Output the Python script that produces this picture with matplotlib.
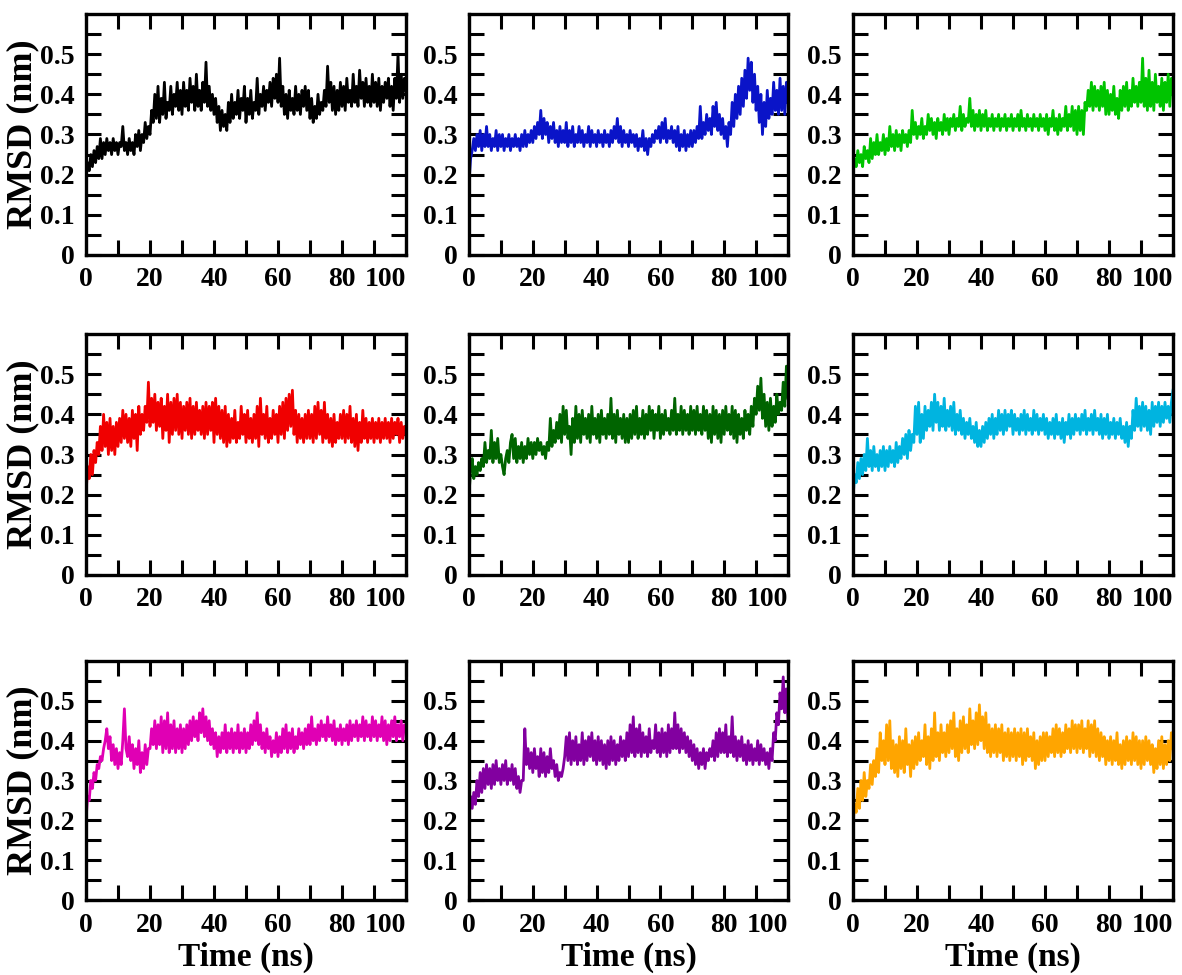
import matplotlib
matplotlib.use("Agg")
import matplotlib.pyplot as plt

# RMSD traces, one value every 0.5 ns (0..100)
time_ns = [i * 0.5 for i in range(201)]

rmsd_black = [
    0.19, 0.23, 0.21, 0.25, 0.22, 0.26, 0.23, 0.27, 0.24, 0.29, 0.24, 0.28, 0.25, 0.29, 0.26, 0.28, 0.25, 0.29, 0.26, 0.28,
    0.25, 0.28, 0.27, 0.32, 0.26, 0.28, 0.25, 0.29, 0.26, 0.28, 0.25, 0.30, 0.27, 0.31, 0.26, 0.30, 0.28, 0.33, 0.29, 0.32,
    0.30, 0.36, 0.33, 0.40, 0.34, 0.42, 0.33, 0.39, 0.35, 0.43, 0.34, 0.38, 0.36, 0.42, 0.35, 0.40, 0.37, 0.43, 0.36, 0.41,
    0.35, 0.43, 0.37, 0.41, 0.36, 0.44, 0.38, 0.42, 0.36, 0.45, 0.37, 0.41, 0.36, 0.43, 0.38, 0.48, 0.37, 0.42, 0.36, 0.40,
    0.35, 0.39, 0.33, 0.37, 0.31, 0.36, 0.32, 0.35, 0.31, 0.38, 0.33, 0.40, 0.34, 0.38, 0.35, 0.41, 0.34, 0.39, 0.36, 0.42,
    0.33, 0.39, 0.35, 0.41, 0.34, 0.38, 0.36, 0.44, 0.35, 0.40, 0.37, 0.42, 0.36, 0.41, 0.38, 0.43, 0.37, 0.44, 0.39, 0.45,
    0.38, 0.49, 0.37, 0.42, 0.35, 0.40, 0.34, 0.41, 0.36, 0.39, 0.35, 0.42, 0.36, 0.40, 0.35, 0.41, 0.37, 0.42, 0.36, 0.41,
    0.34, 0.39, 0.33, 0.37, 0.34, 0.40, 0.35, 0.38, 0.36, 0.41, 0.37, 0.47, 0.38, 0.43, 0.36, 0.42, 0.35, 0.41, 0.36, 0.43,
    0.37, 0.42, 0.36, 0.44, 0.38, 0.41, 0.37, 0.45, 0.38, 0.42, 0.37, 0.46, 0.39, 0.43, 0.37, 0.44, 0.38, 0.42, 0.37, 0.45,
    0.38, 0.43, 0.37, 0.44, 0.36, 0.42, 0.38, 0.43, 0.39, 0.44, 0.37, 0.42, 0.36, 0.44, 0.39, 0.50, 0.38, 0.45, 0.39, 0.44,
    0.41,
]

rmsd_blue = [
    0.18, 0.24, 0.26, 0.29, 0.26, 0.30, 0.27, 0.31, 0.26, 0.30, 0.27, 0.32, 0.27, 0.30, 0.26, 0.29, 0.27, 0.31, 0.26, 0.30,
    0.27, 0.30, 0.26, 0.29, 0.27, 0.30, 0.26, 0.29, 0.27, 0.30, 0.27, 0.29, 0.26, 0.30, 0.27, 0.31, 0.27, 0.30, 0.28, 0.31,
    0.28, 0.32, 0.29, 0.33, 0.30, 0.36, 0.29, 0.34, 0.30, 0.33, 0.28, 0.32, 0.29, 0.33, 0.28, 0.31, 0.27, 0.32, 0.28, 0.31,
    0.28, 0.33, 0.27, 0.31, 0.28, 0.32, 0.27, 0.30, 0.28, 0.32, 0.28, 0.31, 0.27, 0.30, 0.28, 0.32, 0.27, 0.31, 0.28, 0.30,
    0.27, 0.31, 0.28, 0.30, 0.27, 0.31, 0.28, 0.30, 0.27, 0.31, 0.28, 0.32, 0.29, 0.34, 0.28, 0.32, 0.27, 0.31, 0.28, 0.30,
    0.27, 0.31, 0.28, 0.30, 0.27, 0.30, 0.26, 0.29, 0.27, 0.31, 0.26, 0.29, 0.25, 0.29, 0.27, 0.30, 0.28, 0.31, 0.29, 0.32,
    0.28, 0.33, 0.29, 0.34, 0.28, 0.31, 0.29, 0.32, 0.28, 0.31, 0.27, 0.32, 0.26, 0.30, 0.27, 0.31, 0.26, 0.30, 0.27, 0.31,
    0.27, 0.31, 0.28, 0.32, 0.29, 0.37, 0.29, 0.33, 0.30, 0.35, 0.31, 0.34, 0.30, 0.37, 0.32, 0.38, 0.31, 0.35, 0.30, 0.34,
    0.29, 0.32, 0.27, 0.33, 0.30, 0.38, 0.32, 0.40, 0.34, 0.42, 0.35, 0.44, 0.37, 0.46, 0.39, 0.49, 0.41, 0.48, 0.38, 0.45,
    0.36, 0.42, 0.33, 0.40, 0.30, 0.38, 0.32, 0.41, 0.34, 0.39, 0.35, 0.43, 0.36, 0.41, 0.35, 0.44, 0.36, 0.42, 0.35, 0.43,
    0.38,
]

rmsd_green = [
    0.20, 0.24, 0.22, 0.26, 0.23, 0.25, 0.22, 0.27, 0.24, 0.26, 0.23, 0.29, 0.24, 0.28, 0.25, 0.30, 0.25, 0.28, 0.26, 0.30,
    0.25, 0.29, 0.26, 0.32, 0.27, 0.30, 0.26, 0.31, 0.27, 0.30, 0.26, 0.31, 0.28, 0.30, 0.27, 0.31, 0.28, 0.36, 0.30, 0.33,
    0.29, 0.32, 0.30, 0.34, 0.29, 0.32, 0.30, 0.35, 0.31, 0.34, 0.30, 0.33, 0.29, 0.34, 0.31, 0.33, 0.30, 0.35, 0.31, 0.34,
    0.30, 0.34, 0.32, 0.35, 0.31, 0.34, 0.32, 0.37, 0.31, 0.35, 0.32, 0.34, 0.33, 0.39, 0.32, 0.36, 0.31, 0.35, 0.32, 0.36,
    0.31, 0.35, 0.32, 0.36, 0.31, 0.34, 0.32, 0.35, 0.31, 0.34, 0.32, 0.35, 0.31, 0.34, 0.32, 0.35, 0.31, 0.34, 0.32, 0.35,
    0.31, 0.34, 0.32, 0.35, 0.31, 0.36, 0.32, 0.34, 0.31, 0.35, 0.32, 0.34, 0.31, 0.35, 0.32, 0.34, 0.31, 0.35, 0.32, 0.34,
    0.31, 0.35, 0.30, 0.34, 0.32, 0.36, 0.31, 0.34, 0.30, 0.35, 0.31, 0.34, 0.32, 0.37, 0.31, 0.35, 0.32, 0.37, 0.31, 0.36,
    0.30, 0.37, 0.31, 0.36, 0.30, 0.38, 0.36, 0.41, 0.37, 0.43, 0.36, 0.42, 0.37, 0.41, 0.36, 0.42, 0.37, 0.43, 0.35, 0.41,
    0.35, 0.40, 0.36, 0.42, 0.35, 0.39, 0.34, 0.41, 0.36, 0.42, 0.37, 0.43, 0.36, 0.41, 0.37, 0.44, 0.38, 0.42, 0.37, 0.43,
    0.38, 0.49, 0.37, 0.44, 0.36, 0.46, 0.37, 0.43, 0.36, 0.45, 0.38, 0.42, 0.37, 0.44, 0.36, 0.43, 0.38, 0.45, 0.37, 0.44,
    0.40,
]

rmsd_red = [
    0.20, 0.27, 0.24, 0.30, 0.25, 0.31, 0.28, 0.33, 0.30, 0.37, 0.31, 0.40, 0.32, 0.38, 0.30, 0.39, 0.31, 0.37, 0.30, 0.38,
    0.32, 0.39, 0.33, 0.41, 0.34, 0.40, 0.33, 0.39, 0.32, 0.41, 0.34, 0.40, 0.31, 0.42, 0.35, 0.40, 0.36, 0.42, 0.38, 0.48,
    0.37, 0.44, 0.38, 0.45, 0.36, 0.43, 0.37, 0.44, 0.34, 0.42, 0.36, 0.45, 0.33, 0.43, 0.35, 0.44, 0.36, 0.45, 0.35, 0.43,
    0.34, 0.42, 0.36, 0.43, 0.35, 0.44, 0.34, 0.42, 0.35, 0.43, 0.36, 0.41, 0.35, 0.42, 0.34, 0.43, 0.35, 0.42, 0.36, 0.43,
    0.33, 0.44, 0.35, 0.42, 0.34, 0.41, 0.33, 0.42, 0.32, 0.40, 0.33, 0.39, 0.34, 0.41, 0.33, 0.38, 0.34, 0.42, 0.35, 0.40,
    0.33, 0.41, 0.34, 0.39, 0.33, 0.40, 0.34, 0.42, 0.32, 0.44, 0.35, 0.40, 0.34, 0.42, 0.33, 0.39, 0.34, 0.41, 0.35, 0.40,
    0.33, 0.42, 0.35, 0.43, 0.34, 0.44, 0.36, 0.45, 0.37, 0.46, 0.35, 0.41, 0.33, 0.40, 0.34, 0.39, 0.33, 0.40, 0.34, 0.41,
    0.34, 0.40, 0.33, 0.42, 0.34, 0.43, 0.35, 0.41, 0.33, 0.43, 0.34, 0.40, 0.33, 0.39, 0.32, 0.40, 0.33, 0.38, 0.34, 0.40,
    0.34, 0.41, 0.33, 0.40, 0.34, 0.42, 0.33, 0.39, 0.32, 0.40, 0.31, 0.38, 0.33, 0.41, 0.34, 0.39, 0.33, 0.38, 0.34, 0.39,
    0.33, 0.38, 0.34, 0.39, 0.33, 0.38, 0.34, 0.39, 0.34, 0.38, 0.33, 0.39, 0.34, 0.38, 0.35, 0.39, 0.33, 0.38, 0.34, 0.37,
    0.35,
]

rmsd_darkgreen = [
    0.20, 0.26, 0.29, 0.24, 0.27, 0.25, 0.28, 0.26, 0.29, 0.27, 0.33, 0.28, 0.31, 0.29, 0.36, 0.28, 0.33, 0.29, 0.34, 0.28,
    0.30, 0.27, 0.25, 0.29, 0.31, 0.28, 0.33, 0.35, 0.29, 0.34, 0.28, 0.32, 0.29, 0.33, 0.28, 0.32, 0.29, 0.34, 0.30, 0.33,
    0.29, 0.33, 0.30, 0.34, 0.31, 0.33, 0.30, 0.32, 0.29, 0.33, 0.31, 0.39, 0.32, 0.36, 0.33, 0.38, 0.34, 0.40, 0.33, 0.42,
    0.35, 0.41, 0.34, 0.37, 0.30, 0.39, 0.33, 0.42, 0.34, 0.40, 0.33, 0.41, 0.35, 0.39, 0.34, 0.40, 0.33, 0.42, 0.35, 0.39,
    0.34, 0.40, 0.33, 0.41, 0.35, 0.39, 0.34, 0.40, 0.35, 0.44, 0.34, 0.40, 0.33, 0.41, 0.35, 0.39, 0.34, 0.40, 0.33, 0.39,
    0.33, 0.40, 0.34, 0.41, 0.35, 0.42, 0.34, 0.39, 0.35, 0.41, 0.34, 0.40, 0.35, 0.42, 0.36, 0.41, 0.34, 0.40, 0.36, 0.42,
    0.34, 0.40, 0.35, 0.41, 0.36, 0.39, 0.35, 0.41, 0.36, 0.44, 0.35, 0.40, 0.36, 0.42, 0.35, 0.41, 0.36, 0.40, 0.35, 0.42,
    0.36, 0.41, 0.35, 0.42, 0.36, 0.40, 0.35, 0.42, 0.36, 0.41, 0.34, 0.40, 0.33, 0.42, 0.35, 0.41, 0.34, 0.40, 0.33, 0.41,
    0.35, 0.42, 0.36, 0.40, 0.35, 0.42, 0.34, 0.41, 0.33, 0.40, 0.35, 0.39, 0.34, 0.41, 0.36, 0.40, 0.35, 0.42, 0.37, 0.44,
    0.40, 0.47, 0.41, 0.49, 0.39, 0.45, 0.37, 0.43, 0.36, 0.44, 0.37, 0.42, 0.38, 0.45, 0.40, 0.43, 0.41, 0.48, 0.42, 0.52,
    0.44,
]

rmsd_cyan = [
    0.19, 0.25, 0.23, 0.28, 0.24, 0.29, 0.25, 0.30, 0.26, 0.34, 0.27, 0.31, 0.26, 0.32, 0.27, 0.30, 0.26, 0.31, 0.27, 0.32,
    0.26, 0.31, 0.27, 0.32, 0.28, 0.31, 0.27, 0.33, 0.28, 0.32, 0.29, 0.34, 0.30, 0.35, 0.29, 0.36, 0.31, 0.35, 0.33, 0.42,
    0.35, 0.43, 0.33, 0.40, 0.34, 0.42, 0.36, 0.41, 0.37, 0.43, 0.36, 0.45, 0.38, 0.43, 0.36, 0.42, 0.37, 0.44, 0.36, 0.41,
    0.37, 0.42, 0.36, 0.43, 0.35, 0.40, 0.36, 0.41, 0.35, 0.39, 0.34, 0.38, 0.35, 0.39, 0.34, 0.37, 0.33, 0.38, 0.32, 0.36,
    0.32, 0.37, 0.33, 0.38, 0.34, 0.39, 0.35, 0.40, 0.34, 0.39, 0.35, 0.41, 0.36, 0.40, 0.35, 0.41, 0.36, 0.40, 0.37, 0.41,
    0.35, 0.40, 0.36, 0.39, 0.35, 0.40, 0.36, 0.41, 0.35, 0.40, 0.36, 0.39, 0.35, 0.41, 0.36, 0.40, 0.35, 0.39, 0.36, 0.40,
    0.35, 0.39, 0.34, 0.38, 0.35, 0.39, 0.34, 0.40, 0.35, 0.38, 0.34, 0.39, 0.33, 0.38, 0.35, 0.40, 0.34, 0.39, 0.35, 0.40,
    0.36, 0.39, 0.35, 0.40, 0.36, 0.41, 0.35, 0.39, 0.36, 0.40, 0.35, 0.41, 0.36, 0.39, 0.35, 0.40, 0.34, 0.39, 0.35, 0.40,
    0.34, 0.38, 0.35, 0.39, 0.34, 0.38, 0.35, 0.39, 0.34, 0.37, 0.33, 0.38, 0.32, 0.37, 0.34, 0.41, 0.36, 0.44, 0.37, 0.42,
    0.36, 0.43, 0.37, 0.42, 0.36, 0.41, 0.35, 0.43, 0.37, 0.42, 0.38, 0.43, 0.37, 0.42, 0.38, 0.43, 0.39, 0.42, 0.38, 0.43,
    0.46,
]

rmsd_magenta = [
    0.20, 0.26, 0.25, 0.30, 0.28, 0.32, 0.30, 0.34, 0.33, 0.36, 0.35, 0.38, 0.40, 0.43, 0.38, 0.41, 0.35, 0.39, 0.34, 0.38,
    0.33, 0.37, 0.34, 0.40, 0.48, 0.38, 0.36, 0.41, 0.35, 0.39, 0.33, 0.38, 0.34, 0.40, 0.32, 0.37, 0.33, 0.39, 0.34, 0.38,
    0.38, 0.43, 0.39, 0.45, 0.38, 0.44, 0.39, 0.46, 0.37, 0.45, 0.38, 0.47, 0.37, 0.44, 0.38, 0.45, 0.37, 0.43, 0.38, 0.44,
    0.37, 0.43, 0.38, 0.44, 0.39, 0.45, 0.40, 0.46, 0.41, 0.45, 0.40, 0.47, 0.42, 0.48, 0.41, 0.46, 0.40, 0.45, 0.39, 0.43,
    0.38, 0.42, 0.36, 0.41, 0.37, 0.42, 0.38, 0.44, 0.37, 0.42, 0.38, 0.43, 0.37, 0.42, 0.38, 0.44, 0.37, 0.42, 0.38, 0.43,
    0.37, 0.42, 0.38, 0.44, 0.39, 0.45, 0.40, 0.47, 0.39, 0.44, 0.38, 0.42, 0.37, 0.43, 0.38, 0.41, 0.36, 0.40, 0.37, 0.42,
    0.36, 0.41, 0.37, 0.43, 0.38, 0.44, 0.37, 0.42, 0.38, 0.43, 0.37, 0.41, 0.38, 0.43, 0.39, 0.42, 0.38, 0.43, 0.39, 0.44,
    0.39, 0.46, 0.40, 0.43, 0.39, 0.44, 0.40, 0.45, 0.41, 0.44, 0.40, 0.46, 0.41, 0.44, 0.40, 0.45, 0.39, 0.43, 0.40, 0.44,
    0.39, 0.43, 0.40, 0.44, 0.39, 0.45, 0.40, 0.44, 0.41, 0.45, 0.40, 0.44, 0.41, 0.46, 0.40, 0.45, 0.41, 0.44, 0.40, 0.46,
    0.41, 0.45, 0.40, 0.44, 0.41, 0.46, 0.40, 0.45, 0.39, 0.44, 0.40, 0.45, 0.41, 0.46, 0.40, 0.44, 0.41, 0.45, 0.40, 0.44,
    0.43,
]

rmsd_purple = [
    0.20, 0.26, 0.23, 0.27, 0.24, 0.30, 0.26, 0.32, 0.27, 0.33, 0.28, 0.34, 0.29, 0.33, 0.28, 0.34, 0.29, 0.35, 0.30, 0.33,
    0.29, 0.34, 0.30, 0.35, 0.29, 0.33, 0.30, 0.34, 0.29, 0.33, 0.28, 0.31, 0.27, 0.30, 0.30, 0.43, 0.34, 0.38, 0.33, 0.37,
    0.32, 0.38, 0.33, 0.36, 0.31, 0.38, 0.32, 0.37, 0.31, 0.36, 0.32, 0.38, 0.33, 0.35, 0.31, 0.34, 0.30, 0.32, 0.31, 0.33,
    0.36, 0.41, 0.35, 0.42, 0.34, 0.40, 0.35, 0.41, 0.34, 0.39, 0.35, 0.42, 0.34, 0.40, 0.35, 0.41, 0.36, 0.42, 0.35, 0.40,
    0.34, 0.41, 0.35, 0.40, 0.34, 0.39, 0.33, 0.40, 0.34, 0.41, 0.35, 0.40, 0.34, 0.39, 0.35, 0.41, 0.36, 0.40, 0.35, 0.42,
    0.36, 0.44, 0.37, 0.46, 0.36, 0.43, 0.37, 0.44, 0.36, 0.42, 0.37, 0.41, 0.36, 0.43, 0.37, 0.40, 0.38, 0.44, 0.37, 0.42,
    0.36, 0.43, 0.37, 0.42, 0.36, 0.44, 0.37, 0.43, 0.38, 0.47, 0.38, 0.44, 0.37, 0.43, 0.38, 0.42, 0.37, 0.41, 0.36, 0.40,
    0.35, 0.39, 0.34, 0.38, 0.33, 0.37, 0.34, 0.38, 0.33, 0.37, 0.35, 0.38, 0.36, 0.40, 0.35, 0.42, 0.36, 0.43, 0.37, 0.42,
    0.37, 0.44, 0.36, 0.41, 0.37, 0.46, 0.36, 0.41, 0.35, 0.40, 0.36, 0.41, 0.35, 0.39, 0.34, 0.40, 0.35, 0.39, 0.34, 0.38,
    0.35, 0.40, 0.34, 0.39, 0.35, 0.38, 0.34, 0.37, 0.33, 0.38, 0.35, 0.42, 0.40, 0.47, 0.44, 0.52, 0.48, 0.56, 0.47, 0.53,
    0.45,
]

rmsd_orange = [
    0.19, 0.24, 0.22, 0.28, 0.23, 0.30, 0.25, 0.32, 0.26, 0.30, 0.28, 0.34, 0.29, 0.35, 0.31, 0.38, 0.32, 0.42, 0.35, 0.40,
    0.34, 0.44, 0.35, 0.45, 0.33, 0.40, 0.32, 0.39, 0.31, 0.41, 0.33, 0.40, 0.32, 0.43, 0.34, 0.39, 0.31, 0.40, 0.33, 0.41,
    0.34, 0.42, 0.35, 0.40, 0.36, 0.44, 0.34, 0.41, 0.33, 0.43, 0.35, 0.47, 0.36, 0.42, 0.35, 0.44, 0.37, 0.42, 0.36, 0.44,
    0.37, 0.45, 0.38, 0.47, 0.36, 0.43, 0.35, 0.45, 0.37, 0.46, 0.38, 0.44, 0.37, 0.48, 0.39, 0.45, 0.38, 0.47, 0.39, 0.49,
    0.40, 0.46, 0.38, 0.47, 0.37, 0.44, 0.36, 0.43, 0.37, 0.44, 0.36, 0.43, 0.37, 0.44, 0.35, 0.42, 0.36, 0.43, 0.35, 0.42,
    0.36, 0.43, 0.35, 0.42, 0.36, 0.43, 0.34, 0.42, 0.35, 0.43, 0.36, 0.41, 0.35, 0.42, 0.33, 0.40, 0.34, 0.41, 0.35, 0.42,
    0.35, 0.42, 0.36, 0.41, 0.37, 0.43, 0.36, 0.44, 0.37, 0.43, 0.36, 0.42, 0.37, 0.44, 0.38, 0.43, 0.37, 0.45, 0.38, 0.44,
    0.37, 0.44, 0.38, 0.45, 0.37, 0.43, 0.38, 0.45, 0.36, 0.44, 0.37, 0.45, 0.36, 0.43, 0.35, 0.42, 0.36, 0.41, 0.34, 0.40,
    0.35, 0.41, 0.34, 0.40, 0.35, 0.42, 0.34, 0.39, 0.33, 0.40, 0.34, 0.41, 0.35, 0.40, 0.34, 0.42, 0.35, 0.41, 0.34, 0.40,
    0.33, 0.40, 0.34, 0.41, 0.35, 0.40, 0.34, 0.39, 0.32, 0.38, 0.33, 0.40, 0.34, 0.41, 0.33, 0.39, 0.34, 0.40, 0.35, 0.42,
    0.38,
]

series = [rmsd_black, rmsd_blue, rmsd_green,
          rmsd_red, rmsd_darkgreen, rmsd_cyan,
          rmsd_magenta, rmsd_purple, rmsd_orange]
colors = ["#000000", "#0a14c8", "#00c400",
          "#f00000", "#006400", "#00b4e0",
          "#e000b4", "#8200a0", "#ffa500"]

x_ticks = [0, 20, 40, 60, 80, 100]
x_labels = ["0", "20", "40", "60", "80", "100"]
y_ticks = [0, 0.1, 0.2, 0.3, 0.4, 0.5]
y_labels = ["0", "0.1", "0.2", "0.3", "0.4", "0.5"]

plt.rcParams["font.family"] = ["Liberation Serif", "DejaVu Serif"]
plt.rcParams["font.weight"] = "bold"

W, H = 1182, 975
fig = plt.figure(figsize=(W / 100, H / 100), dpi=100)

# panel boxes in pixels: (left, right) per column, (top, bottom) per row
col_x = [(86, 406), (469, 788), (853, 1173)]
row_y = [(14, 255), (334, 575), (661, 900)]

for i, data in enumerate(series):
    r, c = divmod(i, 3)
    l, rr = col_x[c]
    t, b = row_y[r]
    ax = fig.add_axes([l / W, 1 - b / H, (rr - l) / W, (b - t) / H])
    ax.plot(time_ns, data, color=colors[i], lw=2.0)
    ax.set_xlim(0, 100)
    ax.set_ylim(0, 0.6)
    ax.set_xticks(x_ticks)
    ax.set_xticklabels(x_labels, fontsize=20, fontweight="bold")
    ax.set_xticks([10, 30, 50, 70, 90], minor=True)
    ax.set_yticks(y_ticks)
    ax.set_yticklabels(y_labels, fontsize=20, fontweight="bold")
    ax.set_yticks([0.05, 0.15, 0.25, 0.35, 0.45, 0.55], minor=True)
    ax.tick_params(which="both", direction="in", top=True, right=True,
                   length=11, width=2.2)
    ax.tick_params(axis="x", pad=9)
    ax.tick_params(axis="y", pad=8)
    # last x label sits flush with the right frame, as in the original
    ax.get_xticklabels()[-1].set_horizontalalignment("right")
    for s in ax.spines.values():
        s.set_linewidth(2.4)
    if c == 0:
        ax.set_ylabel("RMSD (nm)", fontsize=26, fontweight="bold", labelpad=1)
    if r == 2:
        ax.set_xlabel("Time (ns)", fontsize=24, fontweight="bold", labelpad=3)

fig.savefig("out.png", dpi=100)
